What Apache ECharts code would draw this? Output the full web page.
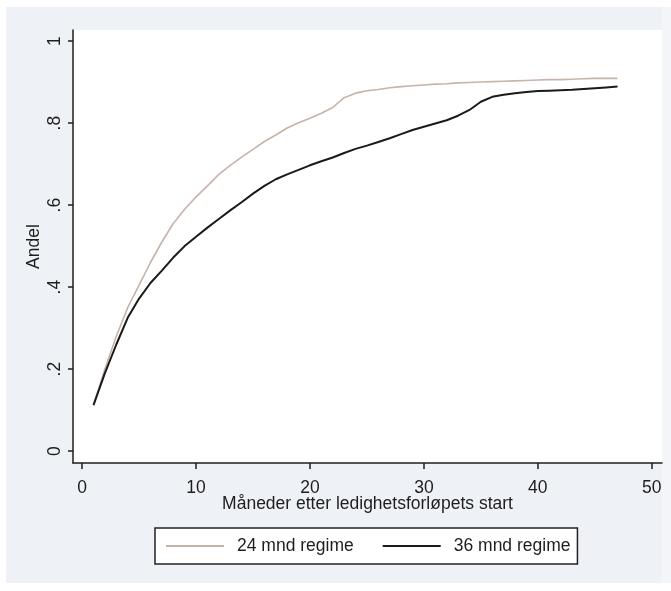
<!DOCTYPE html>
<html>
<head>
<meta charset="utf-8">
<script src="https://cdn.jsdelivr.net/npm/echarts@6/dist/echarts.min.js"></script>
<style>
  html, body { margin: 0; padding: 0; background: #ffffff; }
  #bg { position: absolute; left: 6px; top: 7px; width: 656px; height: 576px; background: #eef1f5; }
  #strip { position: absolute; left: 662px; top: 7px; width: 9px; height: 576px; background: #f3f5f9; }
  #chart { position: absolute; left: 0; top: 0; width: 671px; height: 591px; }
</style>
</head>
<body>
<div id="bg"></div>
<div id="strip"></div>
<div id="chart"></div>
<script>
// Months after start of unemployment spell
const months = [1,2,3,4,5,6,7,8,9,10,11,12,13,14,15,16,17,18,19,20,21,22,23,24,25,26,27,28,29,30,31,32,33,34,35,36,37,38,39,40,41,42,43,44,45,46,47];

// Share ("Andel") - 24 month regime
const share24 = [0.112,0.20,0.28,0.35,0.405,0.46,0.51,0.555,0.59,0.62,0.647,0.675,0.697,0.717,0.736,0.755,0.771,0.788,0.801,0.812,0.824,0.838,0.862,0.873,0.879,0.882,0.886,0.889,0.891,0.893,0.895,0.896,0.898,0.899,0.900,0.901,0.902,0.903,0.904,0.905,0.906,0.906,0.907,0.908,0.909,0.909,0.909];

// Share ("Andel") - 36 month regime
const share36 = [0.112,0.19,0.26,0.325,0.372,0.41,0.44,0.472,0.50,0.523,0.545,0.566,0.587,0.607,0.628,0.647,0.663,0.675,0.686,0.697,0.707,0.716,0.727,0.737,0.745,0.754,0.763,0.773,0.783,0.791,0.799,0.807,0.818,0.832,0.852,0.864,0.869,0.873,0.876,0.878,0.879,0.880,0.881,0.883,0.885,0.887,0.889];

const xTickValues = [0,10,20,30,40,50];
const yTickValues = [0,0.2,0.4,0.6,0.8,1];
const yTickLabels = ['0','.2','.4','.6','.8','1'];

const seriesNames = ['24 mnd regime','36 mnd regime'];
const xTitle = 'Måneder etter ledighetsforløpets start';
const yTitle = 'Andel';

const FONT = '"Liberation Sans", Arial, sans-serif';
const INK = '#1e1e1e';

const chart = echarts.init(document.getElementById('chart'), null, {renderer: 'canvas'});

chart.setOption({
  backgroundColor: 'transparent',
  animation: false,
  textStyle: { fontFamily: FONT, color: INK },
  grid: {
    left: 73, right: 9, top: 30, bottom: 128,
    show: true, backgroundColor: '#ffffff', borderWidth: 0,
    containLabel: false
  },
  legend: {
    left: 155, top: 528,
    orient: 'horizontal',
    padding: [9, 7, 9, 10],
    itemWidth: 58, itemHeight: 14, itemGap: 28,
    borderColor: '#222', borderWidth: 1.5,
    backgroundColor: '#ffffff',
    itemStyle: { opacity: 0 },
    textStyle: { fontFamily: FONT, fontSize: 17.5, color: INK, padding: [0, 0, 0, 8] },
    data: seriesNames
  },
  xAxis: {
    type: 'value',
    min: -0.8, max: 50.9,
    name: xTitle,
    nameLocation: 'middle',
    nameGap: 32,
    nameMoveOverlap: false,
    nameTextStyle: { fontFamily: FONT, fontSize: 17.5, color: INK },
    axisLine: { show: true, onZero: false, lineStyle: { color: INK, width: 1.5 } },
    axisTick: { show: true, length: 6, customValues: xTickValues, lineStyle: { color: INK, width: 1.5 } },
    axisLabel: { customValues: xTickValues, margin: 16, fontSize: 17.5, color: INK, fontFamily: FONT },
    splitLine: { show: false }
  },
  yAxis: {
    type: 'value',
    min: -0.029, max: 1.027,
    name: yTitle,
    nameLocation: 'middle',
    nameRotate: 90,
    nameGap: 30,
    nameMoveOverlap: false,
    nameTextStyle: { fontFamily: FONT, fontSize: 17.5, color: INK },
    axisLine: { show: true, onZero: false, lineStyle: { color: INK, width: 1.5 } },
    axisTick: { show: true, length: 5, customValues: yTickValues, lineStyle: { color: INK, width: 1.5 } },
    axisLabel: {
      customValues: yTickValues,
      rotate: 90,
      margin: 9,
      fontSize: 17.5, color: INK, fontFamily: FONT,
      formatter: function (v) {
        for (let i = 0; i < yTickValues.length; i++) {
          if (Math.abs(v - yTickValues[i]) < 1e-6) return yTickLabels[i];
        }
        return '';
      }
    },
    splitLine: { show: false }
  },
  series: [
    {
      name: seriesNames[0],
      type: 'line',
      data: months.map((m, i) => [m, share24[i]]),
      symbol: 'none',
      lineStyle: { color: '#c6b3ab', width: 1.6 },
      itemStyle: { color: '#c6b3ab' },
      z: 2
    },
    {
      name: seriesNames[1],
      type: 'line',
      data: months.map((m, i) => [m, share36[i]]),
      symbol: 'none',
      lineStyle: { color: '#1a1a1a', width: 2 },
      itemStyle: { color: '#1a1a1a' },
      z: 3
    }
  ]
});
</script>
</body>
</html>
